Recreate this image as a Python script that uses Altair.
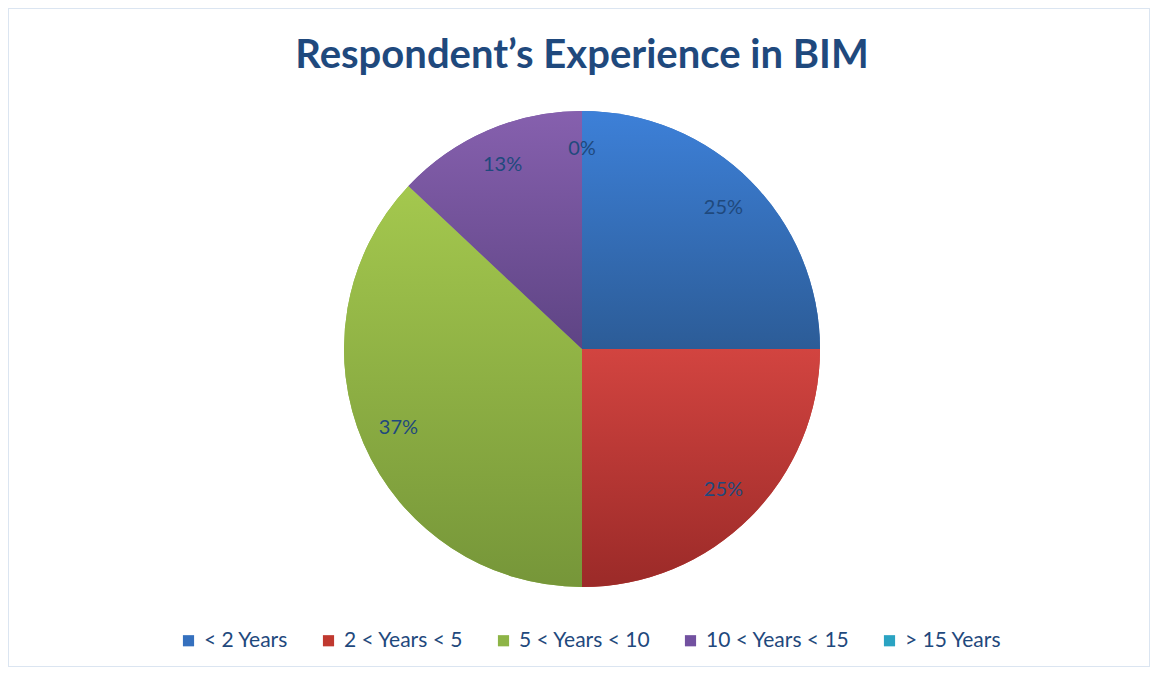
import altair as alt
import pandas as pd

categories = ["< 2 Years", "2 < Years < 5", "5 < Years < 10", "10 < Years < 15", "> 15 Years"]
values = [25, 25, 37, 13, 0]
order = [1, 2, 3, 4, 5]
solid_colors = ["#3570be", "#c0392f", "#8db446", "#7251a0", "#2aa3c2"]
grad_top = ["#3d80d8", "#d24440", "#a4c84e", "#8660ae", "#34b6d6"]
grad_bottom = ["#2c5c97", "#9b2a28", "#769639", "#5e4484", "#1f8199"]

df = pd.DataFrame({"category": categories, "value": values, "order": order})

W, H = 1142, 659
CX, CY, R = 574, 341, 238
FONT = "Lato"
TXT = "#1f497d"

base = alt.Chart(df).transform_window(
    end="sum(value)", sort=[alt.SortField("order")], frame=[None, 0]
).transform_calculate(
    start="datum.end - datum.value", mid="datum.end - datum.value/2"
)

theta_scale = alt.Scale(domain=[0, 100], range=[0, 6.283185307179586])

legend_layer = base.mark_arc(outerRadius=R).encode(
    x=alt.value(CX), y=alt.value(CY),
    theta=alt.Theta("start:Q", scale=theta_scale),
    theta2="end:Q",
    color=alt.Color(
        "category:N",
        scale=alt.Scale(domain=categories, range=solid_colors),
        sort=categories,
        legend=alt.Legend(
            title=None, orient="none", direction="horizontal",
            legendX=170, legendY=622,
            symbolType="square", symbolSize=125, symbolStrokeWidth=0,
            labelFont=FONT, labelFontSize=21, labelColor=TXT,
            columnPadding=29, labelOffset=5, symbolOpacity=1,
        ),
    ),
)

layers = [legend_layer]
for i, c in enumerate(categories):
    grad = alt.LinearGradient(
        gradient="linear",
        stops=[alt.GradientStop(color=grad_top[i], offset=0),
               alt.GradientStop(color=grad_bottom[i], offset=1)],
        x1=0, x2=0, y1=0, y2=1,
    )
    layers.append(
        base.transform_filter(alt.datum.category == c).mark_arc(
            outerRadius=R, fill=grad, stroke=None
        ).encode(
            x=alt.value(CX), y=alt.value(CY),
            theta=alt.Theta("start:Q", scale=theta_scale),
            theta2="end:Q",
        )
    )

labels = base.mark_text(
    radius=200, font=FONT, fontSize=20, color=TXT
).encode(
    x=alt.value(CX), y=alt.value(CY),
    theta=alt.Theta("mid:Q", scale=theta_scale),
    text=alt.Text("pct:N"),
).transform_calculate(pct="format(datum.value / 100, '.0%')")

title = alt.Chart(pd.DataFrame({"t": ["Respondent’s Experience in BIM"]})).mark_text(
    font=FONT, fontSize=40, fontWeight="bold", color=TXT
).encode(x=alt.value(CX), y=alt.value(48), text="t:N")

chart = alt.layer(*layers, labels, title).properties(
    width=W, height=H, padding=0, autosize=alt.AutoSizeParams(type="none"),
    background="white",
).configure_view(stroke="#dbe5f1", strokeWidth=2)

chart.save("out.html", embed_options={"renderer": "svg", "actions": False})
